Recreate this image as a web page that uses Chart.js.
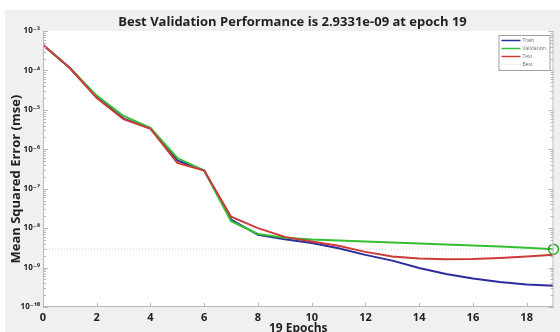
<!DOCTYPE html>
<html>
<head>
<meta charset="utf-8">
<script src="https://cdn.jsdelivr.net/npm/chart.js@4"></script>
<style>
  html, body { margin: 0; padding: 0; background: #ffffff; }
  #wrap { width: 560px; height: 332px; }
</style>
</head>
<body>
<div id="wrap"><canvas id="perf" width="560" height="332"></canvas></div>
<script>
// Training record: mean squared error per epoch
const epochs = [0, 1, 2, 3, 4, 5, 6, 7, 8, 9, 10, 11, 12, 13, 14, 15, 16, 17, 18, 19];
const trainMse = [4.4e-4, 1.15e-4, 2.1e-5, 6.0e-6, 3.4e-6, 5.2e-7, 2.9e-7, 1.65e-8, 6.8e-9, 5.2e-9,
                  4.2e-9, 3.1e-9, 2.1e-9, 1.5e-9, 9.8e-10, 6.9e-10, 5.3e-10, 4.3e-10, 3.7e-10, 3.45e-10];
const validationMse = [4.4e-4, 1.15e-4, 2.3e-5, 7.0e-6, 3.5e-6, 6.0e-7, 2.9e-7, 1.5e-8, 7.1e-9, 5.7e-9,
                       5.15e-9, 4.86e-9, 4.58e-9, 4.32e-9, 4.08e-9, 3.85e-9, 3.63e-9, 3.4e-9, 3.18e-9, 2.9331e-9];
const testMse = [4.4e-4, 1.15e-4, 2.0e-5, 5.8e-6, 3.3e-6, 4.5e-7, 2.9e-7, 1.95e-8, 1.0e-8, 6.0e-9,
                 4.6e-9, 3.56e-9, 2.5e-9, 1.9e-9, 1.7e-9, 1.62e-9, 1.65e-9, 1.75e-9, 1.9e-9, 2.1e-9];
const bestEpoch = 19;
const bestPerf = 2.9331e-9;
const xTicks = [0, 2, 4, 6, 8, 10, 12, 14, 16, 18];
const yTicks = [1e-10, 1e-9, 1e-8, 1e-7, 1e-6, 1e-5, 1e-4, 1e-3];
const supDigits = { '-': '\u207B', '0': '\u2070', '1': '\u00B9', '2': '\u00B2', '3': '\u00B3', '4': '\u2074',
                    '5': '\u2075', '6': '\u2076', '7': '\u2077', '8': '\u2078', '9': '\u2079' };

const FONT = "'Open Sans', 'DejaVu Sans', sans-serif";
const toPoints = arr => epochs.map((e, i) => ({ x: e, y: arr[i] }));
const powerLabel = v => '10' + String(Math.round(Math.log10(v))).split('').map(c => supDigits[c]).join('');

// Figure background, plot box, inner tick marks and the legend box
const figurePlugin = {
  id: 'figure',
  afterLayout(chart) {
    // centre the title a little right of the canvas middle, over the axes
    const t = chart.titleBlock;
    if (t) { t.left += 12; t.right += 12; }
  },
  beforeDraw(chart) {
    const { ctx, chartArea: a } = chart;
    ctx.save();
    ctx.fillStyle = '#f0f0f0';
    ctx.fillRect(5, 10, chart.width - 5, chart.height - 10);
    ctx.fillStyle = '#ffffff';
    ctx.fillRect(a.left, a.top, a.right - a.left, a.bottom - a.top);
    ctx.restore();
  },
  afterDatasetsDraw(chart) {
    const { ctx, chartArea: a, scales: { x, y } } = chart;
    ctx.save();
    ctx.strokeStyle = '#b8b8b8';
    ctx.lineWidth = 1;
    ctx.beginPath();
    ctx.moveTo(a.left + 0.5, a.top); ctx.lineTo(a.left + 0.5, a.bottom);
    ctx.moveTo(a.right - 0.5, a.top); ctx.lineTo(a.right - 0.5, a.bottom);
    ctx.moveTo(a.left, a.bottom - 0.5); ctx.lineTo(a.right, a.bottom - 0.5);
    // x ticks
    xTicks.forEach(v => {
      const px = Math.round(x.getPixelForValue(v)) + 0.5;
      ctx.moveTo(px, a.bottom); ctx.lineTo(px, a.bottom - 4);
    });
    // y major and minor ticks on both sides
    yTicks.forEach(d => {
      for (let k = 1; k <= 9; k++) {
        const v = d * k;
        if (v > yTicks[yTicks.length - 1]) break;
        const py = Math.round(y.getPixelForValue(v)) + 0.5;
        const len = k === 1 ? 5 : 3;
        ctx.moveTo(a.left, py); ctx.lineTo(a.left + len, py);
        ctx.moveTo(a.right, py); ctx.lineTo(a.right - len, py);
      }
    });
    ctx.stroke();

    // legend
    const items = chart.data.datasets.filter(ds => ds.legendLabel);
    const bw = 51, bh = 35;
    const bx = a.right - bw - 4, by = a.top + 4;
    ctx.fillStyle = '#ffffff';
    ctx.fillRect(bx, by, bw, bh);
    ctx.strokeStyle = '#a0a0a0';
    ctx.strokeRect(bx + 0.5, by + 0.5, bw, bh);
    ctx.font = '5px ' + FONT;
    ctx.textBaseline = 'middle';
    ctx.textAlign = 'left';
    items.forEach((ds, i) => {
      const ly = by + 5.5 + i * 8;
      ctx.beginPath();
      ctx.strokeStyle = ds.borderColor;
      ctx.lineWidth = ds.legendWidth;
      ctx.setLineDash(ds.borderDash || []);
      ctx.moveTo(bx + 3, ly); ctx.lineTo(bx + 22, ly);
      ctx.stroke();
      ctx.setLineDash([]);
      ctx.fillStyle = '#6a6a6a';
      ctx.fillText(ds.legendLabel, bx + 24, ly + 0.5);
    });
    ctx.restore();
  }
};

new Chart(document.getElementById('perf'), {
  type: 'line',
  data: {
    datasets: [
      { legendLabel: 'Train', data: toPoints(trainMse), borderColor: '#2c2c9c', borderWidth: 2, legendWidth: 1.5, order: 2 },
      { legendLabel: 'Validation', data: toPoints(validationMse), borderColor: '#33c033', borderWidth: 2, legendWidth: 1.5, order: 1 },
      { legendLabel: 'Test', data: toPoints(testMse), borderColor: '#cc3b3b', borderWidth: 2, legendWidth: 1.5, order: 0 },
      { legendLabel: 'Best', data: [{ x: epochs[0], y: bestPerf }, { x: epochs[epochs.length - 1], y: bestPerf }],
        borderColor: '#c8c8c8', borderWidth: 1, legendWidth: 0.8, borderDash: [1, 2], order: 3 },
      { data: [{ x: bestEpoch, y: bestPerf }], showLine: false, pointRadius: 5, pointBorderWidth: 1.5,
        pointBorderColor: '#2fa82f', pointBackgroundColor: 'rgba(0,0,0,0)', clip: false, order: -1 }
    ]
  },
  options: {
    responsive: false,
    devicePixelRatio: 1,
    animation: false,
    layout: { padding: { top: 10, left: 5, right: 4, bottom: 0 } },
    elements: { point: { radius: 0 }, line: { tension: 0 } },
    plugins: {
      legend: { display: false },
      tooltip: { enabled: false },
      title: {
        display: true,
        text: 'Best Validation Performance is 2.9331e-09 at epoch 19',
        color: '#222222',
        font: { family: FONT, size: 13, weight: 'bold', lineHeight: 1.2 },
        padding: { top: 4, bottom: 1.4 }
      }
    },
    scales: {
      x: {
        type: 'linear', min: 0, max: 19,
        afterBuildTicks: s => { s.ticks = xTicks.map(v => ({ value: v })); },
        afterFit: s => { s.height = 25; },
        grid: { display: false, drawTicks: false },
        border: { display: false },
        ticks: { includeBounds: false, padding: 4, color: '#222222', font: { family: FONT, size: 11, weight: 'bold' } },
        title: { display: true, text: '19 Epochs', color: '#222222', padding: { top: 0, bottom: -3 },
                 font: { family: FONT, size: 12, weight: 'bold', lineHeight: 1 } }
      },
      y: {
        type: 'logarithmic', min: 1e-10, max: 1e-3,
        afterBuildTicks: s => { s.ticks = yTicks.map(v => ({ value: v, major: true })); },
        afterFit: s => { s.width = 38; },
        grid: { display: false, drawTicks: false },
        border: { display: false },
        ticks: { padding: 3, color: '#222222', font: { family: FONT, size: 8, weight: 'bold' },
                 callback: v => powerLabel(v) },
        title: { display: true, text: 'Mean Squared Error (mse)      ', color: '#222222', padding: { top: 3, bottom: 0 },
                 font: { family: FONT, size: 13, weight: 'bold', lineHeight: 1.2 } }
      }
    }
  },
  plugins: [figurePlugin]
});
</script>
</body>
</html>
